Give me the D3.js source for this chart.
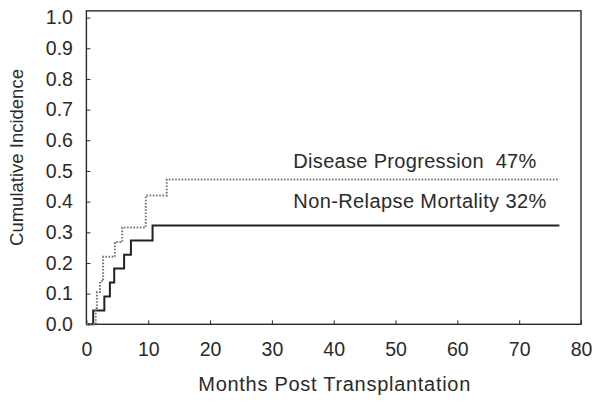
<!DOCTYPE html>
<html>
<head>
<meta charset="utf-8">
<script src="https://cdn.jsdelivr.net/npm/d3@7"></script>
<style>
  html, body { margin: 0; padding: 0; background: #fff; }
  svg { display: block; }
  text { font-family: "Liberation Sans", Arial, sans-serif; fill: #2a2a2a; }
</style>
</head>
<body>
<svg id="chart" width="600" height="403"></svg>
<script>
// ---- data ----
const xTicks = [0, 10, 20, 30, 40, 50, 60, 70, 80];
const yTicks = [0, 0.1, 0.2, 0.3, 0.4, 0.5, 0.6, 0.7, 0.8, 0.9, 1.0];

const nrmMonths = [0, 1.1, 2.9, 3.8, 4.5, 6.1, 7.2, 10.7, 76.5];
const nrmValues = [0, 0.045, 0.091, 0.136, 0.182, 0.227, 0.273, 0.322, 0.322];

const dpMonths = [0, 1.5, 1.7, 2.2, 2.7, 4.6, 5.8, 9.6, 13.0, 76.5];
const dpValues = [0, 0.053, 0.105, 0.14, 0.22, 0.268, 0.316, 0.42, 0.472, 0.472];

const seriesLabels = ["Disease Progression\u00a0\u00a047%", "Non-Relapse Mortality 32%"];
const xTitle = "Months Post Transplantation";
const yTitle = "Cumulative Incidence";

// ---- layout ----
const svg = d3.select("#chart");
const x = d3.scaleLinear().domain([0, 80]).range([86.4, 581]);
const y = d3.scaleLinear().domain([0, 1]).range([324.3, 17.6]);

// frame
svg.append("rect")
  .attr("x", x(0)).attr("y", y(1.022))
  .attr("width", x(80) - x(0)).attr("height", y(0) - y(1.022))
  .attr("fill", "none").attr("stroke", "#2a2a2a").attr("stroke-width", 1.4);

// axes
const yAxis = svg.append("g").attr("transform", `translate(${x(0)},0)`)
  .call(d3.axisLeft(y).tickValues(yTicks).tickFormat(d3.format(".1f"))
        .tickSizeInner(-4).tickSizeOuter(0).tickPadding(13.5));
const xAxis = svg.append("g").attr("transform", `translate(0,${y(0)})`)
  .call(d3.axisBottom(x).tickValues(xTicks).tickFormat(d3.format("d"))
        .tickSizeInner(-4).tickSizeOuter(0).tickPadding(18.3));
[yAxis, xAxis].forEach(g => {
  g.select(".domain").remove();
  g.selectAll(".tick line").attr("stroke", "#2a2a2a").attr("stroke-width", 1);
  g.selectAll(".tick text").attr("font-size", 19.5).attr("fill", "#2a2a2a")
    .style("font-family", '"Liberation Sans", Arial, sans-serif');
});

// lines
const line = d3.line().curve(d3.curveStepAfter);
svg.append("path")
  .attr("d", line(nrmMonths.map((m, i) => [x(m), y(nrmValues[i])])))
  .attr("fill", "none").attr("stroke", "#222").attr("stroke-width", 2);
svg.append("path")
  .attr("d", line(dpMonths.map((m, i) => [x(m), y(dpValues[i])])))
  .attr("fill", "none").attr("stroke", "#777").attr("stroke-width", 2)
  .attr("stroke-dasharray", "1.6,1.6");

// annotations
svg.append("text").attr("x", 293.3).attr("y", 168.3)
  .attr("font-size", 20).attr("textLength", 243).attr("lengthAdjust", "spacing")
  .text(seriesLabels[0]);
svg.append("text").attr("x", 293.3).attr("y", 208.3)
  .attr("font-size", 20).attr("textLength", 253).attr("lengthAdjust", "spacing")
  .text(seriesLabels[1]);

// titles
svg.append("text").attr("x", 198.3).attr("y", 391)
  .attr("font-size", 20).attr("textLength", 272).attr("lengthAdjust", "spacing")
  .text(xTitle);
svg.append("text").attr("transform", `translate(22.7,157.5) rotate(-90)`)
  .attr("text-anchor", "middle").attr("font-size", 18.5).text(yTitle);
</script>
</body>
</html>
